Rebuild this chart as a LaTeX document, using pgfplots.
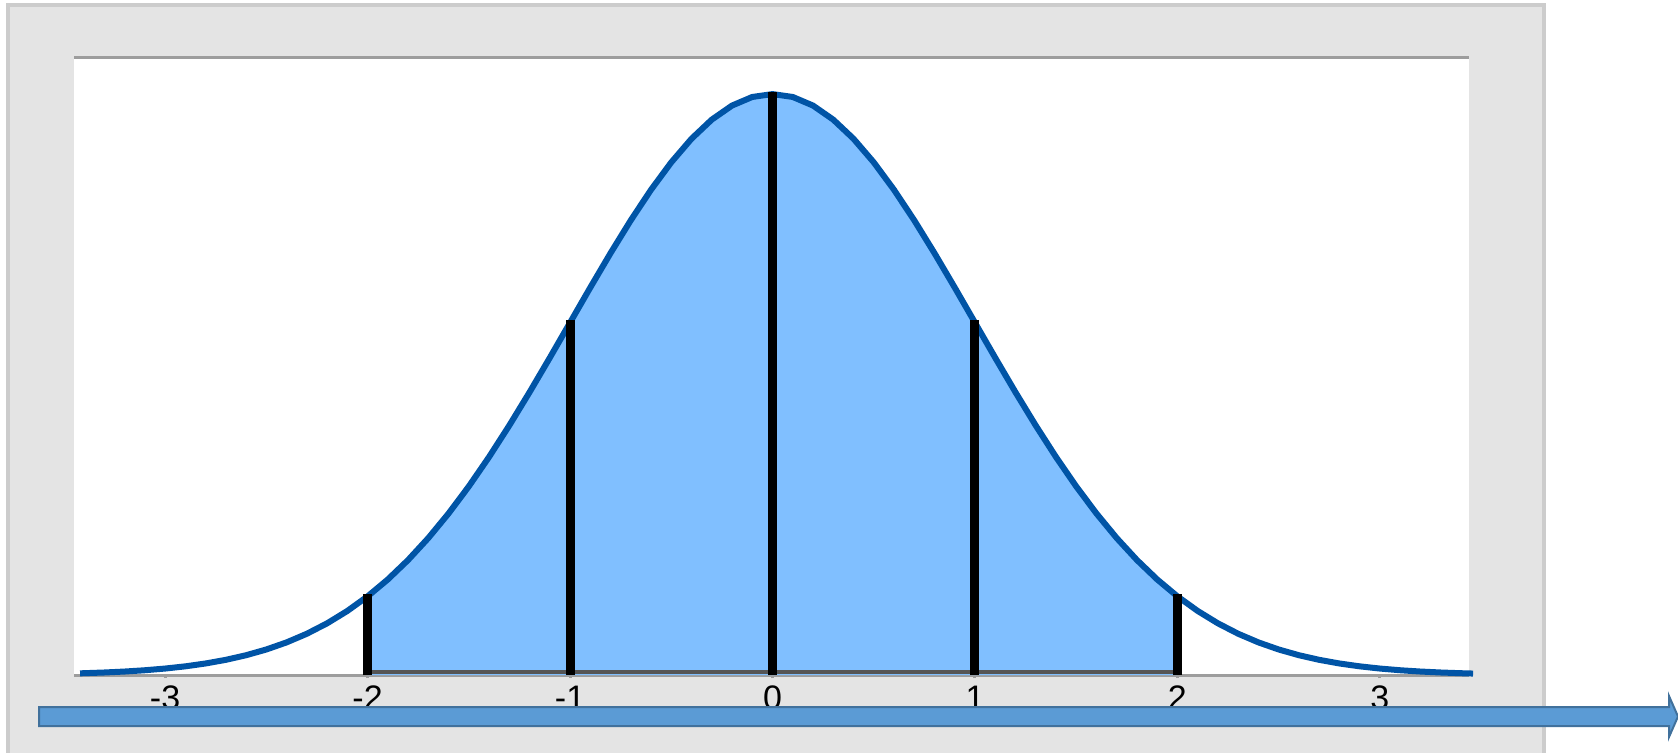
\documentclass[border=0pt]{standalone}
\usepackage{pgfplots}
\pgfplotsset{compat=1.18}
\usepackage{pgfplotstable}
\usepackage{fontspec}
\setmainfont{Liberation Sans}
\definecolor{panelgray}{HTML}{E4E4E4}
\definecolor{bordergray}{HTML}{CCCCCC}
\definecolor{axisgray}{HTML}{9D9D9D}
\definecolor{fillblue}{HTML}{80BFFF}
\definecolor{curveblue}{HTML}{0054A6}
\definecolor{darkline}{HTML}{555555}
\definecolor{arrowfill}{HTML}{5B9BD5}
\definecolor{arrowdraw}{HTML}{41719C}
\pgfplotstableread{
x y
-3.42 0.001152
-3.3 0.001723
-3.2 0.002384
-3.1 0.003267
-3.0 0.004432
-2.9 0.005953
-2.8 0.007915
-2.7 0.010421
-2.6 0.013583
-2.5 0.017528
-2.4 0.022395
-2.3 0.028327
-2.2 0.035475
-2.1 0.043984
-2.0 0.053991
-1.9 0.065616
-1.8 0.078950
-1.7 0.094049
-1.6 0.110921
-1.5 0.129518
-1.4 0.149727
-1.3 0.171369
-1.2 0.194186
-1.1 0.217852
-1.0 0.241971
-0.9 0.266085
-0.8 0.289692
-0.7 0.312254
-0.6 0.333225
-0.5 0.352065
-0.4 0.368270
-0.3 0.381388
-0.2 0.391043
-0.1 0.396953
0.0 0.398942
0.1 0.396953
0.2 0.391043
0.3 0.381388
0.4 0.368270
0.5 0.352065
0.6 0.333225
0.7 0.312254
0.8 0.289692
0.9 0.266085
1.0 0.241971
1.1 0.217852
1.2 0.194186
1.3 0.171369
1.4 0.149727
1.5 0.129518
1.6 0.110921
1.7 0.094049
1.8 0.078950
1.9 0.065616
2.0 0.053991
2.1 0.043984
2.2 0.035475
2.3 0.028327
2.4 0.022395
2.5 0.017528
2.6 0.013583
2.7 0.010421
2.8 0.007915
2.9 0.005953
3.0 0.004432
3.1 0.003267
3.2 0.002384
3.3 0.001723
3.4 0.001232
3.46 0.001000
}\curve
\pgfplotstableread{
x y
-2.0 0.053991
-1.9 0.065616
-1.8 0.078950
-1.7 0.094049
-1.6 0.110921
-1.5 0.129518
-1.4 0.149727
-1.3 0.171369
-1.2 0.194186
-1.1 0.217852
-1.0 0.241971
-0.9 0.266085
-0.8 0.289692
-0.7 0.312254
-0.6 0.333225
-0.5 0.352065
-0.4 0.368270
-0.3 0.381388
-0.2 0.391043
-0.1 0.396953
0.0 0.398942
0.1 0.396953
0.2 0.391043
0.3 0.381388
0.4 0.368270
0.5 0.352065
0.6 0.333225
0.7 0.312254
0.8 0.289692
0.9 0.266085
1.0 0.241971
1.1 0.217852
1.2 0.194186
1.3 0.171369
1.4 0.149727
1.5 0.129518
1.6 0.110921
1.7 0.094049
1.8 0.078950
1.9 0.065616
2.0 0.053991
}\middlepart
\pgfplotstableread{
x y
-2 0.0555
-1 0.2435
0 0.4005
1 0.2435
2 0.0555
}\sigmalines
\begin{document}
\begin{tikzpicture}
\path[use as bounding box] (0,0) rectangle (839pt,376pt);
\clip (0,0) rectangle (839pt,376pt);
\filldraw[fill=panelgray, draw=bordergray, line width=2pt] (4pt,373.5pt) rectangle (772pt,-5pt);
\begin{axis}[
  at={(37pt,38.5pt)}, anchor=south west,
  width=697.5pt, height=309pt, scale only axis,
  xmin=-3.45, xmax=3.44, ymin=0, ymax=0.4244,
  clip=false,
  axis background/.style={fill=white},
  axis line style={draw=none},
  xtick={-3,-2,-1,0,1,2,3},
  xticklabels={-3,-2,-1,0,1,2,3},
  ytick=\empty,
  xtick pos=left,
  xtick align=outside,
  major tick length=1.5pt,
  tick style={axisgray, line width=1.5pt},
  xticklabel style={font=\fontsize{17}{20}\selectfont, text=black, inner sep=4.66pt, yshift=1pt},
]
\draw[axisgray, line width=1.5pt] (rel axis cs:0,1) -- (rel axis cs:1,1);
\draw[axisgray, line width=1.5pt] (rel axis cs:0,0) -- (rel axis cs:1,0);
\addplot[fill=fillblue, draw=none] table[x=x, y=y] {\middlepart} \closedcycle;
\addplot[darkline, line width=2pt] coordinates {(-2,0.0024) (2,0.0024)};
\addplot[curveblue, line width=3pt, line join=round] table[x=x, y=y] {\curve};
\addplot[ycomb, black, line width=4.5pt, mark=none] table[x=x, y=y] {\sigmalines};
\end{axis}
\filldraw[fill=arrowfill, draw=arrowdraw, line width=1pt]
  (19.5pt,22.5pt) -- (834.5pt,22.5pt) -- (834.5pt,28pt) -- (839pt,17.75pt)
  -- (834.5pt,7.5pt) -- (834.5pt,13pt) -- (19.5pt,13pt) -- cycle;
\end{tikzpicture}
\end{document}
